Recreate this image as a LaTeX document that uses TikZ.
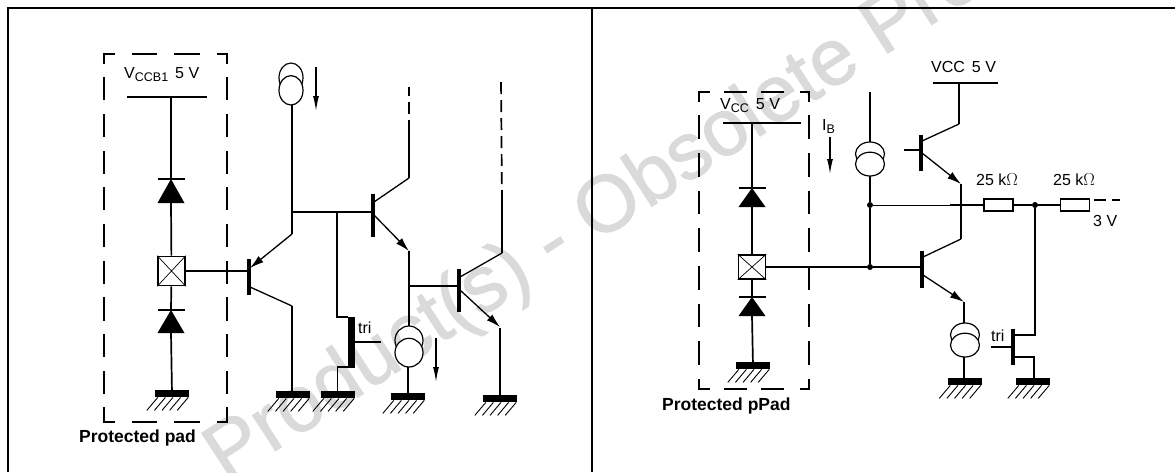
\documentclass[tikz,border=0pt]{standalone}
\usepackage{fontspec}
\setmainfont{Liberation Sans}
\newfontfamily\markfont[FakeBold=1.2]{Liberation Sans}
\usetikzlibrary{arrows.meta, calc, positioning}
\definecolor{markGray}{RGB}{218,218,218}
\tikzset{
    wire/.style={line width=1.7pt},
    thinWire/.style={line width=0.9pt},
    slantWire/.style={line width=1.3pt},
    frameLine/.style={line width=1.8pt},
    dashWire/.style={line width=1.7pt, dash pattern=on 12pt off 6pt},
    sideLine/.style={line width=1.7pt, line cap=rect},
    emitEdge/.style={line width=1.3pt, -{Latex[length=14pt,width=8pt]}},
    currEdge/.style={line width=1.3pt, -{Latex[length=15pt,width=6pt]}},
    bjtBar/.style={rectangle, fill=black, inner sep=0pt, minimum width=3.2pt},
    gndBar/.style={rectangle, fill=black, inner sep=0pt, minimum width=34pt, minimum height=7pt, anchor=north},
    gndHatch/.style={line width=0.9pt},
    resBox/.style={rectangle, draw, line width=1.6pt, inner sep=0pt, minimum width=29pt, minimum height=12pt},
    padNode/.style={rectangle, draw, line width=1.7pt, fill=white, inner sep=0pt, minimum width=27pt},
    srcNode/.style={rectangle, inner sep=0pt},
    dotNode/.style={circle, fill=black, inner sep=0pt, minimum size=6pt},
    lab/.style={font=\fontsize{16}{18}\selectfont, inner sep=0pt},
    labBold/.style={font=\bfseries\fontsize{17.5}{20}\selectfont, inner sep=0pt},
    markText/.style={font=\markfont\fontsize{80}{90}\selectfont, text=markGray, inner sep=0pt, anchor=base west, rotate=33},
}
\newcommand{\lowText}[1]{\raisebox{-3pt}{\fontsize{12.5}{14}\selectfont #1}}
% ground: bar with five hatch strokes
\newcommand{\drawGnd}[3]{
    \node[gndBar] (#1) at (#2,#3) {};
    \foreach \k in {0,...,4}{
        \draw[gndHatch] ($(#1.south east)+(-\k*7.6-1,0)$) -- ++(-11,13);
    }
}
% diode: name, x, y of bar, y of base
\newcommand{\drawDiode}[4]{
    \coordinate (#1k) at (#2,#3);
    \coordinate (#1a) at (#2,#4);
    \draw[wire] ($(#1k)+(-13.5,0)$) -- ($(#1k)+(13.5,0)$);
    \fill ($(#1k)$) -- ($(#1a)+(-13.5,0)$) -- ($(#1a)+(13.5,0)$) -- cycle;
}
% current source: name, x, y top, y bottom, width
\newcommand{\drawSource}[5]{
    \node[srcNode, minimum width=#5pt, minimum height=#4pt-#3pt] (#1) at (#2,{(#3+#4)/2}) {};
    \draw[line width=1.2pt] (#2,{#3+0.35*(#4-#3)}) ellipse [x radius=#5/2, y radius={0.35*(#4-#3)}];
    \draw[line width=1.2pt, fill=white] (#2,{#4-0.35*(#4-#3)}) ellipse [x radius=#5/2, y radius={0.35*(#4-#3)}];
}
% transistor bar: name, x, y top, y bottom
\newcommand{\drawBar}[4]{
    \node[bjtBar, minimum height=#4pt-#3pt] (#1) at (#2,{(#3+#4)/2}) {};
}
% dashed frame: left, top, right, bottom, horizontal dashes, vertical dashes
\newcommand{\drawPadFrame}[6]{
    \draw[sideLine, dash pattern=#5] (#1,#2) -- (#3,#2);
    \draw[sideLine, dash pattern=#5] (#1,#4) -- (#3,#4);
    \draw[sideLine, dash pattern=#6] (#1,#2) -- (#1,#4);
    \draw[sideLine, dash pattern=#6] (#3,#2) -- (#3,#4);
}
\begin{document}
\begin{tikzpicture}[x=1pt, y=-1pt]
    \useasboundingbox (0,0) rectangle (1175,472);

    \node[markText] (mark) at (226,483) {Product(s) - Obsolete Product(s)};

    \draw[frameLine] (8,472) -- (8,8) -- (1175,8);
    \draw[frameLine] (592,8) -- (592,472);

    % left panel
    \drawPadFrame{104}{54}{227}{422}{on 10pt off 18.5pt on 24pt off 18.5pt on 24pt off 18.5pt on 10pt off 100pt}{on 9pt off 15pt on 21.5pt off 15.2pt on 21.5pt off 15.2pt on 21.5pt off 15.2pt on 21.5pt off 15.2pt on 21.5pt off 15.2pt on 21.5pt off 15.2pt on 21.5pt off 15.2pt on 21.5pt off 15.2pt on 21.5pt off 15.2pt on 30pt off 100pt}
    \node[lab, anchor=base west] (vccbL) at (124,78) {V\lowText{CCB1}\hspace{7pt}5 V};
    \node[labBold, anchor=base west] (protL) at (79,442) {Protected pad};
    \coordinate (railLa) at (127,97);
    \coordinate (railLb) at (207,97);
    \coordinate (railL) at (171,97);
    \draw[wire] (railLa) -- (railLb);

    \drawDiode{dLa}{171}{179}{203}
    \drawDiode{dLb}{171}{310}{333}
    \node[padNode, minimum height=29pt] (padL) at (171.5,271) {};
    \draw[line width=0.7pt] (padL.north west) -- (padL.south east) (padL.north east) -- (padL.south west);
    \drawGnd{gndLa}{172}{390}
    \draw[wire] (railL) -- (dLak);
    \draw[wire] (dLaa) -- (padL);
    \draw[wire] (padL) -- (dLbk);
    \draw[wire] (dLba) -- (gndLa);

    \drawBar{qLa}{249}{259}{295}
    \draw[wire] (padL.east) -- (padL.east -| qLa.west);
    \coordinate (qLae) at (292,234);
    \coordinate (qLac) at (292,306);
    \draw[emitEdge] (qLae) -- (250,268);
    \draw[slantWire] (250,287) -- (qLac);
    \drawSource{srcLa}{291}{63}{105}{24}
    \draw[wire] (292,105) -- (qLae);
    \drawGnd{gndLb}{293}{391}
    \draw[wire] (qLac) -- (292,391);
    \coordinate (iLaa) at (316,67);
    \coordinate (iLab) at (316,111);
    \draw[currEdge] (iLaa) -- (iLab);

    \drawBar{qLb}{373}{194}{237}
    \coordinate (jLa) at (292,212);
    \coordinate (jLb) at (337,212);
    \draw[wire] (jLa) -- (373,212);
    \coordinate (qLbc) at (409,178);
    \coordinate (qLbe) at (409,251);
    \draw[slantWire] (374,202) -- (qLbc);
    \draw[emitEdge] (374,215) -- (qLbe);
    \draw[wire] (qLbc) -- (409,132);
    \draw[dashWire] (409,132) -- (409,87);

    \drawSource{srcLb}{409}{326}{367}{28}
    \draw[wire] (qLbe) -- (409,326);
    \drawGnd{gndLc}{408}{393}
    \draw[wire] (408,367) -- (408,393);
    \draw[currEdge] (436,338) -- (436,382);

    \drawBar{qLc}{459}{269}{312}
    \draw[wire] (409,286) -- (459,286);
    \coordinate (qLcc) at (502,253);
    \draw[slantWire] (460,277) -- (qLcc);
    \draw[emitEdge] (460,290) -- (500,327);
    \draw[wire] (qLcc) -- (502,202);
    \draw[dashWire] (502,202) -- (501,80);
    \drawGnd{gndLd}{500}{395}
    \draw[wire] (500,328) -- (500,395);

    \node[bjtBar, minimum width=7pt, minimum height=51pt] (triL) at (351.5,342.5) {};
    \node[lab, anchor=base west] (triLab) at (358,333) {tri};
    \drawGnd{gndLe}{338}{391}
    \draw[wire] (jLb) -- (337,317) -- (348,317);
    \draw[wire] (348,367) -- (337.5,367) -- (337.5,391);
    \draw[wire] (355,342) -- (381,342);

    % right panel
    \drawPadFrame{699}{92}{809}{389}{on 10pt off 16pt on 21.5pt off 15pt on 22pt off 17pt on 10pt off 100pt}{on 9pt off 15pt on 22pt off 15.7pt on 22pt off 15.7pt on 22pt off 15.7pt on 22pt off 15.7pt on 22pt off 15.7pt on 22pt off 15.7pt on 22pt off 15.7pt on 30pt off 100pt}
    \node[lab, anchor=base west] (vccR) at (720,109) {V\lowText{CC}\hspace{7pt}5 V};
    \node[labBold, anchor=base west] (protR) at (662,410) {Protected pPad};
    \coordinate (railRa) at (723,123);
    \coordinate (railRb) at (801,123);
    \coordinate (railR) at (752,123);
    \draw[wire] (railRa) -- (railRb);

    \drawDiode{dRa}{752}{188}{207}
    \drawDiode{dRb}{752}{297}{316}
    \node[padNode, minimum height=24pt] (padR) at (752,267) {};
    \draw[line width=0.7pt] (padR.north west) -- (padR.south east) (padR.north east) -- (padR.south west);
    \drawGnd{gndRa}{753}{362}
    \draw[wire] (railR) -- (dRak);
    \draw[wire] (dRaa) -- (padR);
    \draw[wire] (padR) -- (dRbk);
    \draw[wire] (dRba) -- (gndRa);

    \node[lab, anchor=base west] (ibLab) at (822,130) {I\lowText{B}};
    \draw[currEdge] (830,137) -- (830,174);

    \drawSource{srcRa}{870}{142}{176}{29}
    \node[dotNode] (jRa) at (870,205) {};
    \node[dotNode] (jRb) at (870,267) {};
    \draw[wire] (870,92) -- (srcRa);
    \draw[wire] (srcRa) -- (jRa);
    \draw[wire] (jRa) -- (jRb);

    \drawBar{qRa}{921}{135}{171}
    \draw[wire] (904,150) -- (921,150);
    \coordinate (qRac) at (959,124);
    \coordinate (qRae) at (961,184);
    \draw[slantWire] (922,141) -- (qRac);
    \draw[emitEdge] (922,153) -- (qRae);
    \draw[wire] (qRac) -- (959,83);
    \coordinate (railSa) at (933,83);
    \coordinate (railSb) at (998,83);
    \draw[wire] (railSa) -- (railSb);
    \node[lab, anchor=base west] (vccS) at (931,72) {VCC\hspace{7pt}5 V};

    \drawBar{qRb}{922}{251}{288}
    \draw[wire] (padR.east) -- (jRb);
    \draw[wire] (jRb) -- (jRb -| qRb.west);
    \coordinate (qRbc) at (961,239);
    \coordinate (qRbe) at (964,302);
    \draw[slantWire] (923,257) -- (qRbc);
    \draw[emitEdge] (923,275) -- (qRbe);
    \draw[wire] (qRae) -- (qRbc);

    \drawSource{srcRb}{965}{323}{357}{29}
    \draw[wire] (qRbe) -- (964,323);
    \drawGnd{gndRb}{964.5}{378}
    \draw[wire] (964,357) -- (964,378);

    \node[resBox] (resA) at (998.5,205) {};
    \node[resBox] (resB) at (1075,205) {};
    \node[dotNode] (jRc) at (1035,205) {};
    \node[lab, anchor=base west] (resALab) at (976,185) {25 k$\Omega$};
    \node[lab, anchor=base west] (resBLab) at (1053,185) {25 k$\Omega$};
    \node[lab, anchor=base west] (volt) at (1093,226) {3 V};
    \draw[thinWire] (jRa) -- (950,205);
    \draw[wire] (950,205) -- (resA);
    \draw[wire] (resA) -- (jRc);
    \draw[wire] (jRc) -- (resB);
    \draw[dashWire] (1094,200) -- (1120,200);

    \drawBar{qRc}{1013}{329}{365}
    \drawGnd{gndRc}{1033}{378}
    \draw[wire] (1013,335) -- (1035,335) -- (jRc);
    \draw[wire] (1013,357) -- (1034,357) -- (1034,378);
    \draw[wire] (991,347) -- (1013,347);
    \node[lab, anchor=base west] (triRLab) at (991,341) {tri};
\end{tikzpicture}
\end{document}
